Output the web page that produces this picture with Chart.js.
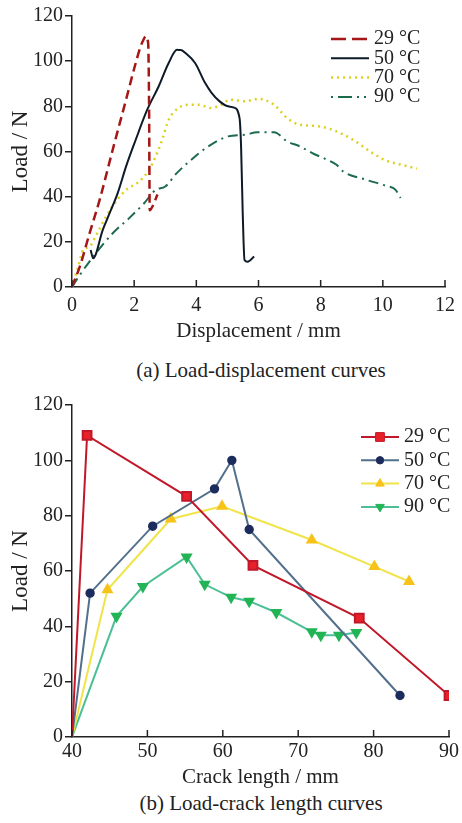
<!DOCTYPE html>
<html>
<head>
<meta charset="utf-8">
<script src="https://cdn.jsdelivr.net/npm/chart.js@4.4.1/dist/chart.umd.min.js"></script>
<style>
  html, body { margin: 0; padding: 0; background: #fff; }
  body { width: 462px; height: 823px; position: relative; overflow: hidden;
         font-family: "Liberation Serif", "DejaVu Serif", Times, serif; color: #222; }
  .box { position: absolute; left: 0; width: 462px; }
  .cap { position: absolute; left: 0; width: 522px; text-align: center;
         font-size: 21px; line-height: 24px; color: #222; white-space: nowrap; }
</style>
</head>
<body>
<div class="box" style="top:0;height:344px"><canvas id="chartA"></canvas></div>
<div class="cap" style="top:358px">(a) Load-displacement curves</div>
<div class="box" style="top:380px;height:410px"><canvas id="chartB"></canvas></div>
<div class="cap" style="top:791px">(b) Load-crack length curves</div>
<script>
// (a) load vs displacement
const seriesLabels = ["29 \u00b0C", "50 \u00b0C", "70 \u00b0C", "90 \u00b0C"];

const disp29 = [0, 0.25, 0.57, 0.89, 1.31, 1.74, 2.05, 2.21, 2.3, 2.37, 2.45, 2.48, 2.5, 2.6, 2.75];
const load29 = [0, 9, 24, 38.6, 60.8, 83, 99.2, 106.6, 109.5, 111, 108, 80, 34, 36, 41];

const disp50 = [0.6, 0.68, 0.99, 1.21, 1.47, 1.74, 2.05, 2.42, 2.79, 3.11, 3.38, 3.5, 3.64, 3.96,
                4.28, 4.49, 4.75, 5.02, 5.2, 5.39, 5.44, 5.49, 5.55, 5.65, 5.86];
const load50 = [16.4, 12.7, 25.3, 32.7, 41.6, 53.4, 65.2, 78.5, 88.9, 99.2, 105, 105, 103.7, 99.2,
                90.4, 86, 82.2, 80, 79.5, 74.8, 62, 34, 12, 11.2, 13.5];

const disp70 = [0, 0.2, 0.36, 0.57, 0.78, 1.1, 1.42, 1.74, 2.16, 2.48, 2.69, 2.9, 3.11, 3.43, 3.85,
                4.06, 4.49, 4.91, 5.05, 5.55, 6.0, 6.5, 6.92, 7.3, 7.98, 8.51, 9.04, 9.67, 10.1, 10.73, 11.1];
const load70 = [0, 9, 16.4, 17.9, 23, 31.2, 37.9, 43, 46.7, 51.9, 57.8, 65.2, 74, 79.3, 80.7,
                80.7, 79.3, 81.5, 83, 82.2, 83.3, 80.7, 74.8, 72, 71.1, 68.9, 65.2, 59.3, 56, 53.7, 52.4];

const disp90 = [0, 0.25, 0.68, 1.31, 1.84, 2.32, 2.69, 3.0, 3.37, 3.96, 4.38, 5.02, 5.55, 5.97, 6.5,
                6.92, 7.34, 7.77, 8.09, 8.51, 8.72, 9.46, 10.1, 10.41, 10.57];
const load90 = [0, 5.3, 13.4, 23.8, 30.5, 37.1, 43, 44.5, 50.4, 57.8, 62.2, 66.7, 67.4, 68.5, 68.5,
                64.5, 62.2, 59, 57.1, 54.1, 51.2, 47.5, 44.8, 43, 39.4];

// (b) load vs crack length
const crack29 = [40, 42, 55.2, 64, 78.1, 90];
const loadB29 = [0, 109, 87, 62, 43, 15];
const crack50 = [40, 42.4, 50.7, 58.9, 61.2, 63.5, 83.5];
const loadB50 = [0, 52, 76.2, 89.7, 100, 75, 15];
const crack70 = [40, 44.7, 53.1, 59.9, 71.8, 80.1, 84.7];
const loadB70 = [0, 53.2, 78.8, 83.4, 71.2, 61.6, 56.2];
const crack90 = [40, 45.9, 49.4, 55.2, 57.6, 61.1, 63.5, 67.1, 71.8, 73.0, 75.4, 77.7];
const loadB90 = [0, 43.6, 54.4, 65.1, 55.2, 50.5, 49.1, 45, 38, 36.8, 36.8, 37.8];

const FONT = "'Liberation Serif', 'DejaVu Serif', Times, serif";
const INK = "#222";
Chart.defaults.font.family = FONT;
Chart.defaults.color = INK;

const pts = (xs, ys) => xs.map((x, i) => ({ x: x, y: ys[i] }));

// x ticks of the original point into the plot
const inwardTicks = {
  id: "inwardTicks",
  afterDraw(chart) {
    const sx = chart.scales.x, ctx = chart.ctx, b = chart.chartArea.bottom;
    ctx.save();
    ctx.strokeStyle = INK;
    ctx.lineWidth = 1.5;
    sx.ticks.forEach(t => {
      const px = sx.getPixelForValue(t.value);
      ctx.beginPath();
      ctx.moveTo(px, b);
      ctx.lineTo(px, b - 7);
      ctx.stroke();
    });
    ctx.restore();
  }
};

// legend drawn inside the plot, top right
const boxLegend = {
  id: "boxLegend",
  afterDraw(chart, args, opts) {
    const ctx = chart.ctx;
    ctx.save();
    ctx.font = "20px " + FONT;
    ctx.textBaseline = "middle";
    chart.data.datasets.forEach((ds, i) => {
      const y = opts.y + i * opts.gap;
      ctx.strokeStyle = ds.borderColor;
      ctx.lineWidth = ds.borderWidth;
      ctx.lineCap = ds.borderCapStyle || "butt";
      ctx.setLineDash(ds.legendDash || ds.borderDash || []);
      ctx.beginPath();
      ctx.moveTo(opts.x, y);
      ctx.lineTo(opts.x + opts.len, y);
      ctx.stroke();
      ctx.setLineDash([]);
      if (opts.markers) {
        ctx.fillStyle = ds.pointBackgroundColor;
        ctx.strokeStyle = ds.pointBorderColor;
        ctx.lineWidth = 1;
        Chart.helpers.drawPoint(ctx, {
          pointStyle: ds.pointStyle, rotation: ds.pointRotation || 0,
          radius: ds.legendRadius, borderWidth: 1
        }, opts.x + opts.len / 2, y);
      }
      ctx.fillStyle = INK;
      ctx.fillText(ds.label, opts.x + opts.len + 5, y);
    });
    ctx.restore();
  }
};

function scales(xMin, xMax, xStep, xTitle, xHeight, xPad) {
  return {
    x: {
      type: "linear", min: xMin, max: xMax,
      afterFit: s => { s.height = xHeight; },
      ticks: { stepSize: xStep, padding: xPad, font: { size: 20 }, color: INK },
      grid: { display: true, drawOnChartArea: false, drawTicks: false },
      border: { display: true, color: INK, width: 1.5 },
      title: { display: true, text: xTitle, font: { size: 21 }, color: INK, padding: 0 }
    },
    y: {
      type: "linear", min: 0, max: 120,
      afterFit: s => { s.width = 65; },
      ticks: { stepSize: 20, padding: 2, font: { size: 20 }, color: INK },
      grid: { display: true, drawOnChartArea: false, drawTicks: true, tickLength: 7, color: INK, lineWidth: 1.5 },
      border: { display: true, color: INK, width: 1.5 },
      title: { display: true, text: "Load / N", font: { size: 23 }, color: INK, padding: 0 }
    }
  };
}

new Chart(document.getElementById("chartA"), {
  type: "line",
  data: {
    datasets: [
      { label: seriesLabels[0], data: pts(disp29, load29), borderColor: "#a51616",
        borderWidth: 2.5, borderDash: [9, 5], legendDash: [15, 6] },
      { label: seriesLabels[1], data: pts(disp50, load50), borderColor: "#0d1b28",
        borderWidth: 2 },
      { label: seriesLabels[2], data: pts(disp70, load70), borderColor: "#dcd21e",
        borderWidth: 2.5, borderDash: [2, 4] },
      { label: seriesLabels[3], data: pts(disp90, load90), borderColor: "#1d6b4c",
        borderWidth: 2, borderDash: [10, 5, 2, 5], legendDash: [2, 5, 14, 5, 2, 5] }
    ]
  },
  options: {
    responsive: true, maintainAspectRatio: false, animation: false, devicePixelRatio: 1,
    layout: { padding: { left: 7, right: 12, top: 16, bottom: 0 } },
    elements: { point: { radius: 0 }, line: { cubicInterpolationMode: "monotone", fill: false } },
    plugins: {
      legend: { display: false }, tooltip: { enabled: false },
      boxLegend: { x: 331, y: 39, gap: 19.3, len: 38, markers: false }
    },
    scales: scales(0, 12, 2, "Displacement / mm", 57, 7)
  },
  plugins: [inwardTicks, boxLegend]
});

const bareFirst = r => ctx => ctx.dataIndex === 0 ? 0 : r;

new Chart(document.getElementById("chartB"), {
  type: "line",
  data: {
    datasets: [
      { label: seriesLabels[0], data: pts(crack29, loadB29), borderColor: "#c0182a", borderWidth: 2,
        pointStyle: "rect", pointRadius: bareFirst(6.2), legendRadius: 6.2,
        pointBackgroundColor: "#e8202a", pointBorderColor: "#c0182a" },
      { label: seriesLabels[1], data: pts(crack50, loadB50), borderColor: "#52708c", borderWidth: 2,
        pointStyle: "circle", pointRadius: bareFirst(3.7), legendRadius: 3.7,
        pointBackgroundColor: "#1c2c5c", pointBorderColor: "#1c2c5c" },
      { label: seriesLabels[2], data: pts(crack70, loadB70), borderColor: "#f0e448", borderWidth: 2,
        pointStyle: "triangle", pointRadius: bareFirst(5), legendRadius: 5,
        pointBackgroundColor: "#f7c21a", pointBorderColor: "#f7c21a" },
      { label: seriesLabels[3], data: pts(crack90, loadB90), borderColor: "#4cbf94", borderWidth: 2,
        pointStyle: "triangle", pointRotation: 180, pointRadius: bareFirst(5), legendRadius: 5,
        pointBackgroundColor: "#22b455", pointBorderColor: "#22b455" }
    ]
  },
  options: {
    responsive: true, maintainAspectRatio: false, animation: false, devicePixelRatio: 1,
    layout: { padding: { left: 7, right: 12, top: 25, bottom: 0 } },
    elements: { line: { tension: 0, fill: false } },
    plugins: {
      legend: { display: false }, tooltip: { enabled: false },
      boxLegend: { x: 361, y: 57, gap: 23.3, len: 38, markers: true }
    },
    scales: scales(40, 90, 10, "Crack length / mm", 53, 3)
  },
  plugins: [inwardTicks, boxLegend]
});
</script>
</body>
</html>
